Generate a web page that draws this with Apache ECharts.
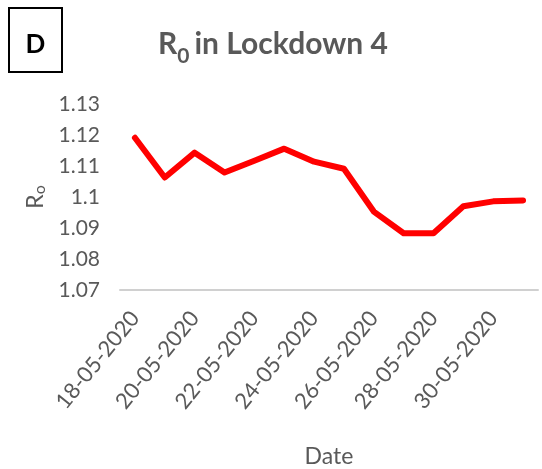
<!DOCTYPE html>
<html><head><meta charset="utf-8">
<script src="https://cdn.jsdelivr.net/npm/echarts@6/dist/echarts.min.js"></script>
<style>html,body{margin:0;padding:0;background:#fff}#c{width:542px;height:469px}</style>
</head><body><div id="c"></div>
<script>
const dates = ['18-05-2020','19-05-2020','20-05-2020','21-05-2020','22-05-2020','23-05-2020','24-05-2020','25-05-2020','26-05-2020','27-05-2020','28-05-2020','29-05-2020','30-05-2020','31-05-2020'];
const r0 = [1.1191,1.1063,1.1143,1.1079,1.1117,1.1156,1.1114,1.1091,1.0953,1.0883,1.0883,1.0970,1.0986,1.0989];
const yTicks = {min:1.07, max:1.13, step:0.01};

const chart = echarts.init(document.getElementById('c'));
const gray = '#595959';
const font = 'Lato, "Open Sans", sans-serif';
chart.setOption({
  animation:false,
  title:{
    text:'{r|R}{s|0}{r|in Lockdown 4}',
    left:153, top:17,
    textStyle:{rich:{
      r:{fontFamily:font,fontWeight:'bold',fontSize:30,color:gray},
      s:{fontFamily:font,fontWeight:'bold',fontSize:21,color:gray,padding:[24,5,0,0]}
    }}
  },
  graphic:[
    {type:'rect',shape:{x:9,y:8,width:53,height:64},style:{fill:'#fff',stroke:'#000',lineWidth:2}},
    {type:'text',x:35.5,y:45,style:{text:'D',fontFamily:font,fontWeight:'bold',fontSize:26,fill:'#000',align:'center',verticalAlign:'middle'}}
  ],
  grid:{left:120,right:4,top:104,bottom:178},
  xAxis:{
    type:'category',data:dates,boundaryGap:true,
    name:'Date',nameLocation:'middle',nameGap:155,
    nameTextStyle:{fontFamily:font,fontSize:23,color:gray},
    axisLine:{lineStyle:{color:'#d0d0d0',width:2}},
    axisTick:{interval:1,length:8,lineStyle:{color:'#d0d0d0',width:2}},
    axisLabel:{interval:1,rotate:51,margin:24,fontFamily:font,fontSize:22,color:gray}
  },
  yAxis:{
    type:'value',min:yTicks.min,max:yTicks.max,interval:yTicks.step,
    name:'{a|R}{b|o}',nameLocation:'middle',nameGap:66,nameRotate:90,
    nameTextStyle:{rich:{a:{fontFamily:font,fontSize:23,color:gray},b:{fontFamily:font,fontSize:16,color:gray,padding:[8,0,0,0]}}},
    axisLine:{show:false},axisTick:{show:false},splitLine:{show:false},
    axisLabel:{margin:20,fontFamily:font,fontSize:21,color:gray,formatter:v=>String(+v.toFixed(2))}
  },
  series:[{type:'line',data:r0,symbol:'none',lineStyle:{color:'#ff0000',width:6,join:'round',cap:'round'}}]
});
</script></body></html>
